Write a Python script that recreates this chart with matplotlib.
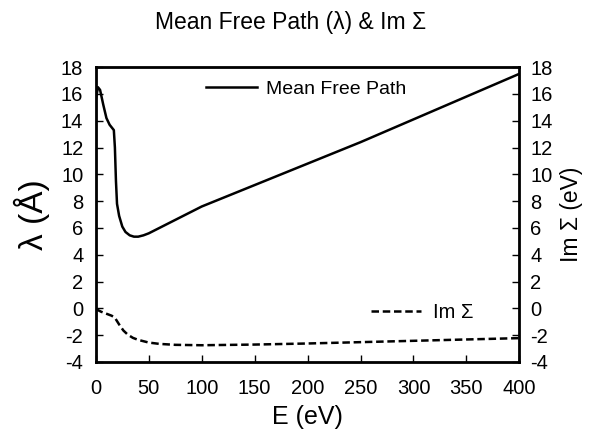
import numpy as np
import matplotlib
matplotlib.use('Agg')
import matplotlib.pyplot as plt

plt.rcParams['font.family'] = ['Liberation Sans', 'DejaVu Sans']
plt.rcParams['axes.unicode_minus'] = False

## values
energy_mfp = [0, 2, 4, 7, 10, 13, 17, 18, 19, 20, 22, 25, 28, 32, 36, 40, 45, 50,
              60, 75, 100, 150, 200, 250, 300, 350, 400]
mfp = [15.6, 16.5, 16.3, 15.2, 14.2, 13.7, 13.3, 12.0, 9.5, 7.8, 6.9, 6.1, 5.7,
       5.45, 5.35, 5.35, 5.45, 5.6, 6.0, 6.6, 7.6, 9.2, 10.8, 12.4, 14.1, 15.8, 17.5]

energy_im = [0, 5, 10, 15, 18, 22, 26, 30, 35, 40, 50, 60, 75, 100, 150, 200,
             250, 300, 350, 400]
im_sigma = [-0.05, -0.25, -0.4, -0.55, -0.7, -1.2, -1.65, -1.95, -2.2, -2.35,
            -2.55, -2.65, -2.72, -2.75, -2.7, -2.62, -2.52, -2.42, -2.32, -2.22]

fig = plt.figure(figsize=(5.99, 4.33), dpi=100)
ax = fig.add_axes([0.160, 0.164, 0.707, 0.681])

line_mfp, = ax.plot(energy_mfp, mfp, color='black', lw=1.8, label='Mean Free Path')
ax.set_xlim(0, 400)
ax.set_ylim(-4, 18)
ax.set_xticks(np.arange(0, 401, 50))
ax.set_yticks(np.arange(-4, 19, 2))
ax.tick_params(direction='in', labelsize=14.5, length=5, width=1)
ax.tick_params(axis='x', pad=12)
ax.tick_params(axis='y', pad=9)
ax.set_xlabel('E (eV)', fontsize=18, labelpad=5)
ax.set_ylabel('λ (Å)', fontsize=24, labelpad=8)
for sp in ax.spines.values():
    sp.set_linewidth(2)

ax2 = ax.twinx()
line_im, = ax2.plot(energy_im, im_sigma, color='black', lw=1.8, ls=(0, (3, 1.5)),
                    label='Im Σ')
ax2.set_ylim(-4, 18)
ax2.set_yticks(np.arange(-4, 19, 2))
ax2.tick_params(direction='in', labelsize=14.5, length=5, width=1, pad=8)
ax2.set_ylabel('Im Σ (eV)', fontsize=16.5, labelpad=5)

ax.legend(handles=[line_mfp], loc='center', bbox_to_anchor=(0.497, 0.925),
          frameon=False, fontsize=14, handlelength=2.6, handletextpad=0.5)
ax2.legend(handles=[line_im], loc='center', bbox_to_anchor=(0.77, 0.168),
           frameon=False, fontsize=14.5, handlelength=2.5, handletextpad=0.6)

fig.suptitle('Mean Free Path (λ) & Im Σ', fontsize=16.5, x=0.485, y=0.975)

fig.savefig('out.png', dpi=100)
